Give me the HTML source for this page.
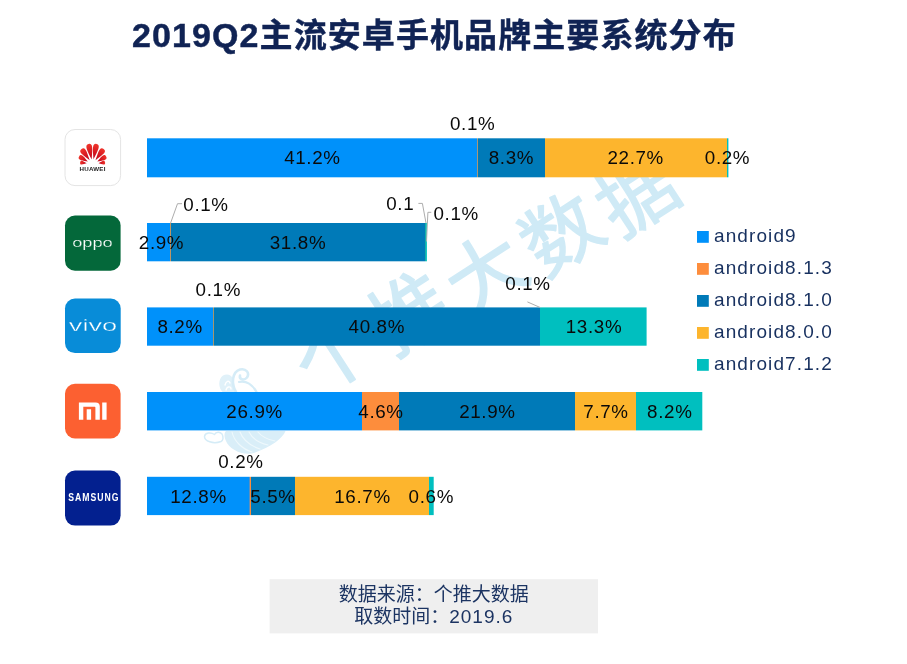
<!DOCTYPE html>
<html lang="zh-CN">
<head>
<meta charset="utf-8">
<title>2019Q2主流安卓手机品牌主要系统分布</title>
<style>
  html, body { margin: 0; padding: 0; background: #ffffff; }
  body { width: 907px; height: 664px; overflow: hidden; position: relative; }
  svg { position: absolute; left: 0; top: 0; display: block; }
  .lat { font-family: "Liberation Sans", "Noto Sans CJK SC", sans-serif; }
  .cjk { font-family: "Liberation Sans", "Noto Sans CJK SC", sans-serif; }
  .title { font-family: "Liberation Sans", "Noto Sans CJK SC", sans-serif; font-weight: bold; font-size: 34px; fill: #102354; stroke: #102354; stroke-width: 0.45px; letter-spacing: 0.2px; }
  .lbl { font-family: "Liberation Sans", "Noto Sans CJK SC", sans-serif; font-size: 18.8px; fill: #0a0a0a; text-anchor: middle; letter-spacing: 0.65px; }
  .leg { font-family: "Liberation Sans", "Noto Sans CJK SC", sans-serif; font-size: 19px; fill: #17305f; letter-spacing: 1.1px; }
  .foot { font-family: "Liberation Sans", "Noto Sans CJK SC", sans-serif; font-size: 19px; fill: #1c3462; text-anchor: middle; }
  .wm { font-family: "Liberation Sans", "Noto Sans CJK SC", sans-serif; font-weight: normal; stroke: #cfeaf6; stroke-width: 1.4px; stroke-linejoin: round; font-size: 78px; fill: #cfeaf6; letter-spacing: 7px; }
  .lead { fill: none; stroke: #adadad; stroke-width: 1; }
</style>
</head>
<body>
<svg width="907" height="664" viewBox="0 0 907 664">
  <rect x="0" y="0" width="907" height="664" fill="#ffffff"/>

  <!-- watermark -->
  <g id="watermark">
    <text class="wm" transform="translate(316.8,397.1) rotate(-33)" dy="0 8.2 8.2 8.2 8.2">个推大数据</text>
    <g id="wm-logo" fill="none" stroke="#d5ecf7" stroke-linecap="round" stroke-linejoin="round">
      <path fill="#e0f1f9" stroke="none" d="M223,392.5 C218,388 218,379 223,375.5 C227,373 232,375 233,379 C235,384 234,389 236,392.5 Z"/>
      <path stroke-width="2.6" d="M236,392 C231,384 232,372 240,369.5 C246,368 250,373 247,377.5 C244,381 239,379.5 240,375.5"/>
      <path stroke-width="2.2" d="M239,382 C246,380 253,385 256.5,392"/>
      <path stroke-width="1.4" stroke="#ffffff" d="M225,385 C226,381 229,380 230,383 M226,390 C227,386 231,386 231,389"/>
      <path fill="#d9eef8" stroke="none" d="M226,431 L285.5,431 C283,438 271,447 254,453 C242,456 229,449 226,441 C224,437 224,433 226,431 Z"/>
      <path stroke-width="1.1" stroke="#eef8fc" d="M232,432 C234,441 242,449 252,452 M240,432 C243,440 251,446 260,449 M249,432 C252,438 259,443 268,445 M258,432 C261,436 268,440 275,441"/>
      <path stroke-width="1.5" d="M221,441.5 C213,444.5 204.5,441 204.5,436.5 C205,432.5 211,432 214.5,434.5 C216,431.5 220,431.5 222,434 C224,437.5 223,440.5 221,441.5 Z"/>
    </g>
  </g>

  <!-- title -->
  <text class="title" x="132" y="46.8"><tspan style="letter-spacing:1.1px">2019Q2</tspan><tspan style="letter-spacing:1.08px;font-size:33px">主流安卓手机品牌主要系统分布</tspan></text>

  <!-- bars -->
  <g id="bars">
    <defs>
      <linearGradient id="g-huawei" gradientUnits="userSpaceOnUse" x1="147.0" y1="0" x2="728.4" y2="0">
        <stop offset="0.00000" stop-color="#0091fa"/><stop offset="0.56760" stop-color="#0091fa"/>
        <stop offset="0.56760" stop-color="#ab9678"/><stop offset="0.56932" stop-color="#ab9678"/>
        <stop offset="0.56932" stop-color="#007ab8"/><stop offset="0.68387" stop-color="#007ab8"/>
        <stop offset="0.68387" stop-color="#fdb52d"/><stop offset="0.99742" stop-color="#fdb52d"/>
        <stop offset="0.99742" stop-color="#00bfbf"/><stop offset="1.00000" stop-color="#00bfbf"/>
      </linearGradient>
      <linearGradient id="g-oppo" gradientUnits="userSpaceOnUse" x1="147.0" y1="0" x2="426.9" y2="0">
        <stop offset="0.00000" stop-color="#0091fa"/><stop offset="0.08217" stop-color="#0091fa"/>
        <stop offset="0.08217" stop-color="#bd9565"/><stop offset="0.08574" stop-color="#bd9565"/>
        <stop offset="0.08574" stop-color="#007ab8"/><stop offset="0.99321" stop-color="#007ab8"/>
        <stop offset="0.99321" stop-color="#16b0a8"/><stop offset="0.99678" stop-color="#16b0a8"/>
        <stop offset="0.99678" stop-color="#00bfbf"/><stop offset="1.00000" stop-color="#00bfbf"/>
      </linearGradient>
      <linearGradient id="g-vivo" gradientUnits="userSpaceOnUse" x1="147.0" y1="0" x2="646.6" y2="0">
        <stop offset="0.00000" stop-color="#0091fa"/><stop offset="0.13211" stop-color="#0091fa"/>
        <stop offset="0.13211" stop-color="#a5966e"/><stop offset="0.13411" stop-color="#a5966e"/>
        <stop offset="0.13411" stop-color="#007ab8"/><stop offset="0.78663" stop-color="#007ab8"/>
        <stop offset="0.78663" stop-color="#00bfbf"/><stop offset="1.00000" stop-color="#00bfbf"/>
      </linearGradient>
      <linearGradient id="g-mi" gradientUnits="userSpaceOnUse" x1="147.0" y1="0" x2="702.3" y2="0">
        <stop offset="0.00000" stop-color="#0091fa"/><stop offset="0.38718" stop-color="#0091fa"/>
        <stop offset="0.38718" stop-color="#fd8d3c"/><stop offset="0.45399" stop-color="#fd8d3c"/>
        <stop offset="0.45399" stop-color="#007ab8"/><stop offset="0.77039" stop-color="#007ab8"/>
        <stop offset="0.77039" stop-color="#fdb52d"/><stop offset="0.88133" stop-color="#fdb52d"/>
        <stop offset="0.88133" stop-color="#00bfbf"/><stop offset="1.00000" stop-color="#00bfbf"/>
      </linearGradient>
      <linearGradient id="g-samsung" gradientUnits="userSpaceOnUse" x1="147.0" y1="0" x2="433.7" y2="0">
        <stop offset="0.00000" stop-color="#0091fa"/><stop offset="0.35577" stop-color="#0091fa"/>
        <stop offset="0.35577" stop-color="#5a90c0"/><stop offset="0.35926" stop-color="#5a90c0"/>
        <stop offset="0.35926" stop-color="#fd8d3c"/><stop offset="0.36275" stop-color="#fd8d3c"/>
        <stop offset="0.36275" stop-color="#007ab8"/><stop offset="0.51657" stop-color="#007ab8"/>
        <stop offset="0.51657" stop-color="#fdb52d"/><stop offset="0.98396" stop-color="#fdb52d"/>
        <stop offset="0.98396" stop-color="#00bfbf"/><stop offset="1.00000" stop-color="#00bfbf"/>
      </linearGradient>
    </defs>
    <rect x="147.0" y="138.3" width="581.4" height="39.0" fill="url(#g-huawei)"/>
    <rect x="147.0" y="223.0" width="279.9" height="38.3" fill="url(#g-oppo)"/>
    <rect x="147.0" y="307.4" width="499.6" height="38.3" fill="url(#g-vivo)"/>
    <rect x="147.0" y="392.0" width="555.3" height="38.4" fill="url(#g-mi)"/>
    <rect x="147.0" y="476.8" width="286.7" height="38.3" fill="url(#g-samsung)"/>
  </g>

  <!-- leader lines -->
  <g id="leaders">
    <polyline class="lead" points="170.6,223 177.5,203.7 182,203.7"/>
    <polyline class="lead" points="418.4,203.4 422.4,203.4 426,223"/>
    <polyline class="lead" points="431.3,212.3 427.9,212.3 426.5,241.5"/>
    <polyline class="lead" points="527.4,301.9 540.2,307.5"/>
  </g>

  <!-- labels -->
  <g id="labels">
    <text class="lbl" x="472.7" y="130.2">0.1%</text>
    <text class="lbl" x="312.4" y="164.2">41.2%</text>
    <text class="lbl" x="511.4" y="164.2">8.3%</text>
    <text class="lbl" x="635.7" y="164.2">22.7%</text>
    <text class="lbl" x="727.5" y="164.2">0.2%</text>

    <text class="lbl" x="206" y="211">0.1%</text>
    <text class="lbl" x="400.3" y="210.3">0.1</text>
    <text class="lbl" x="456.2" y="220.2">0.1%</text>
    <text class="lbl" x="161.5" y="249.1">2.9%</text>
    <text class="lbl" x="298" y="249.1">31.8%</text>

    <text class="lbl" x="218.3" y="296">0.1%</text>
    <text class="lbl" x="528" y="289.9">0.1%</text>
    <text class="lbl" x="180.1" y="333.3">8.2%</text>
    <text class="lbl" x="376.8" y="333.3">40.8%</text>
    <text class="lbl" x="594" y="333.3">13.3%</text>

    <text class="lbl" x="254.6" y="417.9">26.9%</text>
    <text class="lbl" x="381" y="417.9">4.6%</text>
    <text class="lbl" x="487.4" y="417.9">21.9%</text>
    <text class="lbl" x="606" y="417.9">7.7%</text>
    <text class="lbl" x="669.8" y="417.9">8.2%</text>

    <text class="lbl" x="240.9" y="468.4">0.2%</text>
    <text class="lbl" x="198.5" y="502.8">12.8%</text>
    <text class="lbl" x="273" y="502.8">5.5%</text>
    <text class="lbl" x="362.5" y="502.8">16.7%</text>
    <text class="lbl" x="431.3" y="502.8">0.6%</text>
  </g>

  <!-- legend -->
  <g id="legend">
    <rect x="697" y="231" width="11.8" height="11.8" fill="#0091fa"/>
    <rect x="697" y="263" width="11.8" height="11.8" fill="#fd8d3c"/>
    <rect x="697" y="295" width="11.8" height="11.8" fill="#007ab8"/>
    <rect x="697" y="327" width="11.8" height="11.8" fill="#fdb52d"/>
    <rect x="697" y="359" width="11.8" height="11.8" fill="#00bfbf"/>
    <text class="leg" x="714" y="241.8">android9</text>
    <text class="leg" x="714" y="273.8">android8.1.3</text>
    <text class="leg" x="714" y="305.8">android8.1.0</text>
    <text class="leg" x="714" y="337.8">android8.0.0</text>
    <text class="leg" x="714" y="369.8">android7.1.2</text>
  </g>

  <!-- footer -->
  <g id="footer">
    <rect x="269.6" y="579.2" width="328.4" height="54.2" fill="#efefef"/>
    <text class="foot" x="433.8" y="601">数据来源：个推大数据</text>
    <text class="foot" x="433.8" y="623.4">取数时间：<tspan style="letter-spacing:1px">2019.6</tspan></text>
  </g>

  <!-- brand icons -->
  <g id="icons">
    <defs>
      <linearGradient id="hw" x1="0" y1="1" x2="0" y2="0">
        <stop offset="0" stop-color="#be0019"/>
        <stop offset="1" stop-color="#f0352b"/>
      </linearGradient>
    </defs>
    <!-- HUAWEI -->
    <rect x="65" y="129.5" width="55.6" height="56.1" rx="10" ry="10" fill="#ffffff" stroke="#e4e4e4" stroke-width="1"/>
    <g id="huawei-flower">
      <path d="M0,-4.80 C-1.50,-11.12 -5.50,-20.92 0,-20.60 C5.50,-20.92 1.50,-11.12 0,-4.80Z" transform="translate(92.6,164.2) rotate(-11)" fill="url(#hw)"/>
      <path d="M0,-4.80 C-1.50,-11.12 -5.50,-20.92 0,-20.60 C5.50,-20.92 1.50,-11.12 0,-4.80Z" transform="translate(92.6,164.2) rotate(11)" fill="url(#hw)"/>
      <path d="M0,-5.00 C-1.50,-10.52 -5.50,-19.08 0,-18.80 C5.50,-19.08 1.50,-10.52 0,-5.00Z" transform="translate(92.6,164.2) rotate(-36)" fill="url(#hw)"/>
      <path d="M0,-5.00 C-1.50,-10.52 -5.50,-19.08 0,-18.80 C5.50,-19.08 1.50,-10.52 0,-5.00Z" transform="translate(92.6,164.2) rotate(36)" fill="url(#hw)"/>
      <path d="M0,-5.50 C-1.29,-9.54 -4.73,-15.80 0,-15.60 C4.73,-15.80 1.29,-9.54 0,-5.50Z" transform="translate(92.6,164.2) rotate(-60)" fill="url(#hw)"/>
      <path d="M0,-5.50 C-1.29,-9.54 -4.73,-15.80 0,-15.60 C4.73,-15.80 1.29,-9.54 0,-5.50Z" transform="translate(92.6,164.2) rotate(60)" fill="url(#hw)"/>
      <path d="M0,-6.00 C-1.02,-8.64 -3.74,-12.73 0,-12.60 C3.74,-12.73 1.02,-8.64 0,-6.00Z" transform="translate(92.6,164.2) rotate(-82)" fill="url(#hw)"/>
      <path d="M0,-6.00 C-1.02,-8.64 -3.74,-12.73 0,-12.60 C3.74,-12.73 1.02,-8.64 0,-6.00Z" transform="translate(92.6,164.2) rotate(82)" fill="url(#hw)"/>
    </g>
    <text x="92.6" y="170.8" text-anchor="middle" style="font-family:'Liberation Sans','Noto Sans CJK SC',sans-serif;font-weight:bold;font-size:6.2px;letter-spacing:0.25px;fill:#222222">HUAWEI</text>
    <!-- OPPO -->
    <rect x="65" y="215.5" width="55.6" height="55.2" rx="10" ry="10" fill="#04683a"/>
    <text x="72.2" y="246.5" textLength="40.6" lengthAdjust="spacingAndGlyphs" style="font-family:'Liberation Sans','Noto Sans CJK SC',sans-serif;font-size:12.6px;fill:#ffffff;stroke:#04683a;stroke-width:0.2px">oppo</text>
    <!-- vivo -->
    <rect x="65" y="298.5" width="55.7" height="54.6" rx="10" ry="10" fill="#088cd8"/>
    <text x="68.8" y="330.8" textLength="48.4" lengthAdjust="spacingAndGlyphs" style="font-family:'Liberation Sans','Noto Sans CJK SC',sans-serif;font-size:17.2px;fill:#ffffff;stroke:#088cd8;stroke-width:0.3px">vivo</text>
    <!-- MI -->
    <rect x="65" y="383.8" width="55.6" height="54.6" rx="10" ry="10" fill="#fc6031"/>
    <path fill="#ffffff" d="M78.9,402.4 H95.6 Q99.8,402.4 99.8,406.6 V419.7 H95.4 V407.4 Q95.4,406.8 94.8,406.8 H83.3 V419.7 H78.9 Z M86.7,409.3 H91.1 V419.7 H86.7 Z M102.2,402.4 H106.6 V419.7 H102.2 Z"/>
    <!-- SAMSUNG -->
    <rect x="65" y="470.6" width="55.6" height="55" rx="10" ry="10" fill="#03208f"/>
    <text transform="translate(93.9,501.1) scale(0.85,1)" text-anchor="middle" style="font-family:'Liberation Sans','Noto Sans CJK SC',sans-serif;font-weight:bold;font-size:10.2px;letter-spacing:1.2px;fill:#ffffff">SAMSUNG</text>
  </g>
</svg>
</body>
</html>
